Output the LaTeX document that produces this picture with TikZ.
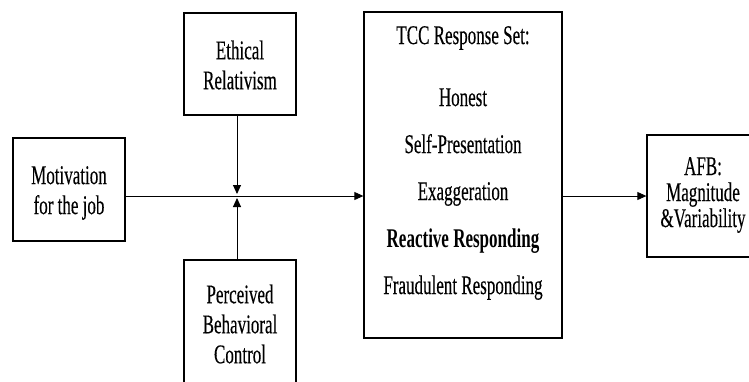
\documentclass[tikz,border=0pt]{standalone}
\usepackage{fontspec}
\setmainfont{Liberation Serif}[FakeStretch=0.63,UprightFeatures={FakeBold=0.3}]
\usetikzlibrary{arrows.meta,calc}
\begin{document}
\begin{tikzpicture}[x=1pt,y=-1pt,
  box/.style={draw,line width=1.3pt,inner sep=0pt,align=center},
  txt/.style={align=center,inner sep=0pt,font=\fontsize{27}{30}\selectfont},
  link/.style={line width=0.9pt,-{Triangle[length=9pt,width=8pt]}}]
\useasboundingbox (0,0) rectangle (749,381);
\clip (0,0) rectangle (749,381);
% boxes
\node[box,minimum width=112pt,minimum height=103pt] (mot) at (69,189.5) {};
\node[box,minimum width=112pt,minimum height=102pt] (er) at (240,64) {};
\node[box,minimum width=112pt,minimum height=140pt] (pbc) at (240,330) {};
\node[box,minimum width=198pt,minimum height=326pt] (tcc) at (463,175) {};
\node[box,minimum width=130pt,minimum height=122pt] (afb) at (712,196) {};
% labels
\node[txt] (motT) at (69,193) {Motivation\\for the job};
\node[txt] (erT) at (240,65) {Ethical\\Relativism};
\node[txt] (pbcT) at (240,324) {Perceived\\Behavioral\\Control};
\node[txt,font=\fontsize{27}{47}\selectfont] (tccT) at (463,163)
  {TCC Response Set:\\[15pt]Honest\\Self-Presentation\\Exaggeration\\\textbf{Reactive Responding}\\Fraudulent Responding};
\node[txt,font=\fontsize{27}{26}\selectfont] (afbT) at (703,195) {AFB:\\Magnitude\\\&Variability};
% connectors
\coordinate (j) at (237,196);
\draw[link] (mot.east |- j) -- (tcc.west |- j);
\draw[link] (er.south -| j) -- ($(j)+(0,-2)$);
\draw[link] (pbc.north -| j) -- ($(j)+(0,2)$);
\draw[link] (tcc.east |- j) -- (afb.west |- j);
\end{tikzpicture}
\end{document}
